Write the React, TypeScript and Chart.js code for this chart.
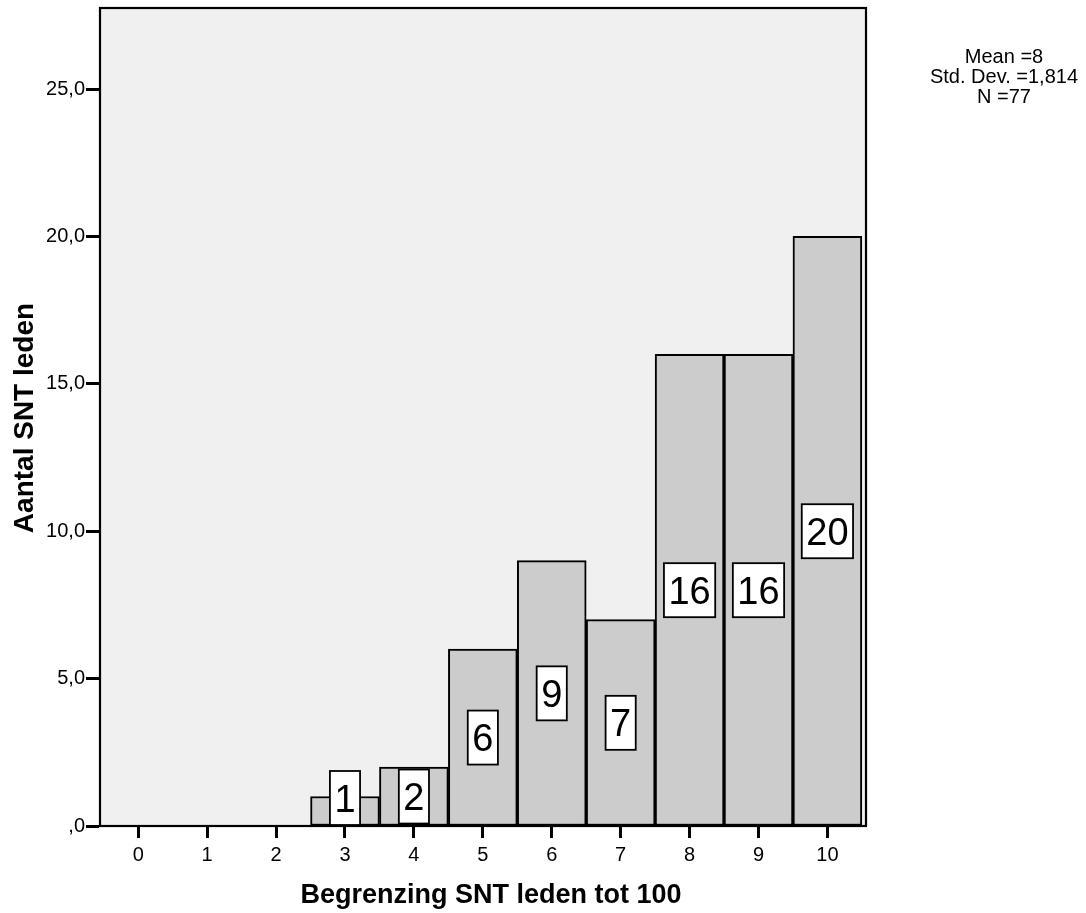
import React, { useEffect, useRef } from 'react';
import { Chart, registerables } from 'chart.js';

Chart.register(...registerables);

const categories = [0, 1, 2, 3, 4, 5, 6, 7, 8, 9, 10];
const counts = [0, 0, 0, 1, 2, 6, 9, 7, 16, 16, 20];
const yTickValues = [0, 5, 10, 15, 20, 25];
const xTitle = 'Begrenzing SNT leden tot 100';
const yTitle = 'Aantal SNT leden';
const statsLines = ['Mean =8', 'Std. Dev. =1,814', 'N =77'];

const FONT = '"Liberation Sans", Arial, Helvetica, sans-serif';

const spssPlugin = {
  id: 'spssPlot',
  beforeDraw(chart: any) {
    const { ctx, chartArea: a } = chart;
    ctx.save();
    ctx.fillStyle = '#F0F0F0';
    ctx.fillRect(a.left, a.top, a.right - a.left, a.bottom - a.top);
    ctx.restore();
  },
  afterDatasetsDraw(chart: any) {
    const { ctx, chartArea: a } = chart;
    const yScale = chart.scales.y;
    const meta = chart.getDatasetMeta(0);
    const pts = chart.data.datasets[0].data as { x: number; y: number }[];
    ctx.save();
    // frame
    ctx.strokeStyle = '#000';
    ctx.lineWidth = 2.2;
    ctx.strokeRect(a.left, a.top, a.right - a.left, a.bottom - a.top);
    // value labels
    ctx.font = `38px ${FONT}`;
    ctx.textAlign = 'center';
    ctx.textBaseline = 'alphabetic';
    const h = 54;
    const base = yScale.getPixelForValue(0);
    meta.data.forEach((el: any, i: number) => {
      const v = pts[i].y;
      const txt = String(v);
      const w = ctx.measureText(txt).width + 9;
      let cy = yScale.getPixelForValue(v / 2);
      cy = Math.min(cy, base - h / 2 - 1);
      const cx = el.x;
      ctx.fillStyle = '#FFFFFF';
      ctx.fillRect(cx - w / 2, cy - h / 2, w, h);
      ctx.strokeStyle = '#000';
      ctx.lineWidth = 1.8;
      ctx.strokeRect(cx - w / 2, cy - h / 2, w, h);
      ctx.fillStyle = '#000';
      ctx.fillText(txt, cx, cy + 0.358 * 38);
    });
    ctx.restore();
  },
  afterDraw(chart: any) {
    const { ctx, chartArea: a } = chart;
    ctx.save();
    ctx.fillStyle = '#000';
    // stats box text
    ctx.font = `20px ${FONT}`;
    ctx.textAlign = 'center';
    ctx.textBaseline = 'alphabetic';
    statsLines.forEach((line, i) => {
      ctx.fillText(line, 1004, 63 + i * 20);
    });
    // axis titles
    ctx.font = `bold 27px ${FONT}`;
    ctx.fillText(xTitle, (a.left + a.right) / 2 + 8, 903);
    ctx.save();
    ctx.translate(33, (a.top + a.bottom) / 2 + 1);
    ctx.rotate(-Math.PI / 2);
    ctx.font = `bold 28px ${FONT}`;
    ctx.fillText(yTitle, 0, 0);
    ctx.restore();
    ctx.restore();
  },
};

export default function App() {
  const ref = useRef<HTMLCanvasElement | null>(null);

  useEffect(() => {
    if (!ref.current) return;
    const points = categories
      .map((c, i) => ({ x: c, y: counts[i] }))
      .filter((p) => p.y > 0);
    const chart = new Chart(ref.current, {
      type: 'bar',
      data: {
        datasets: [
          {
            data: points as any,
            backgroundColor: '#CCCCCC',
            borderColor: '#000000',
            borderWidth: 2,
            borderSkipped: false,
            barPercentage: 1,
            categoryPercentage: 1,
          },
        ],
      },
      options: {
        animation: false,
        responsive: true,
        maintainAspectRatio: false,
        layout: { padding: { top: 8, right: 220, left: 0, bottom: 0 } },
        plugins: {
          legend: { display: false },
          tooltip: { enabled: false },
        },
        scales: {
          x: {
            type: 'linear',
            min: -0.555,
            max: 10.56,
            offset: false,
            afterBuildTicks: (s: any) => {
              s.ticks = categories.map((v) => ({ value: v }));
            },
            afterFit: (s: any) => {
              s.height = 87;
              s.paddingLeft = 0;
              s.paddingRight = 0;
            },
            grid: {
              offset: false,
              drawOnChartArea: false,
              drawTicks: true,
              tickLength: 12,
              tickColor: '#000',
              tickWidth: 3,
            },
            border: { display: true, color: '#000', width: 2 },
            ticks: {
              color: '#000',
              font: { size: 20, family: FONT },
              padding: 5,
              autoSkip: false,
              maxRotation: 0,
              callback: (v: any) => String(v),
            },
            title: { display: false },
          },
          y: {
            type: 'linear',
            min: 0,
            max: 27.75,
            afterBuildTicks: (s: any) => {
              s.ticks = yTickValues.map((v) => ({ value: v }));
            },
            afterFit: (s: any) => {
              s.width = 100;
              s.paddingTop = 0;
              s.paddingBottom = 0;
            },
            grid: {
              drawOnChartArea: false,
              drawTicks: true,
              tickLength: 14,
              tickColor: '#000',
              tickWidth: 3,
            },
            border: { display: true, color: '#000', width: 2 },
            ticks: {
              color: '#000',
              font: { size: 20, family: FONT },
              padding: 1,
              callback: (v: any) => (Number(v) === 0 ? ',0' : Number(v).toFixed(1).replace('.', ',')),
            },
            title: { display: false },
          },
        },
      } as any,
      plugins: [spssPlugin],
    });
    return () => chart.destroy();
  }, []);

  return (
    <div style={{ position: 'absolute', left: 0, top: 0, width: 1086, height: 913, background: '#fff' }}>
      <canvas ref={ref} />
    </div>
  );
}
